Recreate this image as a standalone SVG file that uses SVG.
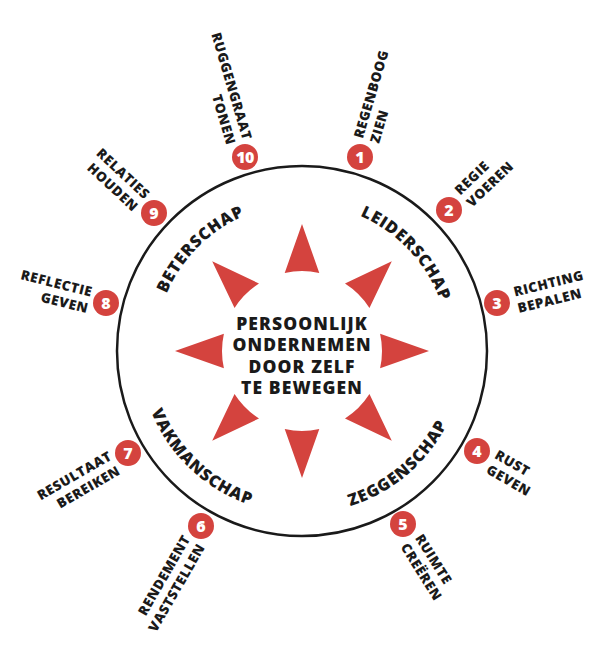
<svg xmlns="http://www.w3.org/2000/svg" width="612" height="664" viewBox="0 0 612 664">
<style>
.lbl{font-family:"Open Sans","Liberation Sans",sans-serif;font-weight:800;font-size:13.5px;letter-spacing:0.6px;fill:#1a1a1a}
.num{font-family:"Open Sans","Liberation Sans",sans-serif;font-weight:800;font-size:16px;fill:#fff;text-anchor:middle}
.dot{fill:#d4433e}
.arc{font-family:"Open Sans","Liberation Sans",sans-serif;font-weight:800;font-size:16.5px;letter-spacing:0.8px;fill:#1a1a1a}
.ctr{font-family:"Open Sans","Liberation Sans",sans-serif;font-weight:800;font-size:17.5px;letter-spacing:1.1px;fill:#1a1a1a;text-anchor:middle}
.tri{fill:#d4433e}
.e{text-anchor:end}
</style>
<defs>
<path id="upper" d="M 155 351 A 147 147 0 0 1 449 351"/>
<path id="lower" d="M 139.5 351 A 162.5 162.5 0 0 0 464.5 351"/>
<path id="tri" d="M 0 -127 L 17.3 -78.1 A 80 80 0 0 0 -17.3 -78.1 Z"/>
</defs>
<g id="ring"><circle cx="302" cy="351" r="185" fill="none" stroke="#1a1a1a" stroke-width="2.5"/></g>
<g id="rays" transform="translate(302 351)">
<use href="#tri" class="tri"/>
<use href="#tri" class="tri" transform="rotate(45)"/>
<use href="#tri" class="tri" transform="rotate(90)"/>
<use href="#tri" class="tri" transform="rotate(135)"/>
<use href="#tri" class="tri" transform="rotate(180)"/>
<use href="#tri" class="tri" transform="rotate(225)"/>
<use href="#tri" class="tri" transform="rotate(270)"/>
<use href="#tri" class="tri" transform="rotate(315)"/>
</g>
<g id="center">
<text class="ctr" x="302" y="329.5">PERSOONLIJK</text>
<text class="ctr" x="302" y="351">ONDERNEMEN</text>
<text class="ctr" x="302" y="372.6">DOOR ZELF</text>
<text class="ctr" x="302" y="394.2">TE BEWEGEN</text>
</g>
<g id="leiderschap"><text class="arc"><textPath href="#upper" startOffset="76%" text-anchor="middle">LEIDERSCHAP</textPath></text></g>
<g id="beterschap"><text class="arc"><textPath href="#upper" startOffset="25%" text-anchor="middle">BETERSCHAP</textPath></text></g>
<g id="vakmanschap"><text class="arc"><textPath href="#lower" startOffset="25.9%" text-anchor="middle">VAKMANSCHAP</textPath></text></g>
<g id="zeggenschap"><text class="arc"><textPath href="#lower" startOffset="72.4%" text-anchor="middle">ZEGGENSCHAP</textPath></text></g>
<g id="n1" transform="translate(360 157)">
<circle class="dot" r="13"/><text class="num" y="5.7">1</text>
<g transform="rotate(-73.4)"><text class="lbl" x="18" y="-2.5">REGENBOOG</text><text class="lbl" x="18" y="14.5">ZIEN</text></g>
</g>
<g id="n2" transform="translate(449 210)">
<circle class="dot" r="13"/><text class="num" y="5.7">2</text>
<g transform="rotate(-43.8)"><text class="lbl" x="18" y="-2.5">REGIE</text><text class="lbl" x="18" y="14.5">VOEREN</text></g>
</g>
<g id="n3" transform="translate(497 303)">
<circle class="dot" r="13"/><text class="num" y="5.7">3</text>
<g transform="rotate(-13.8)"><text class="lbl" x="19" y="-2">RICHTING</text><text class="lbl" x="19" y="15">BEPALEN</text></g>
</g>
<g id="n4" transform="translate(477 451)">
<circle class="dot" r="13"/><text class="num" y="5.7">4</text>
<g transform="rotate(30)"><text class="lbl" x="18" y="-2.5">RUST</text><text class="lbl" x="18" y="14.5">GEVEN</text></g>
</g>
<g id="n5" transform="translate(403 524)">
<circle class="dot" r="13"/><text class="num" y="5.7">5</text>
<g transform="rotate(58)"><text class="lbl" x="18" y="-2.5">RUIMTE</text><text class="lbl" x="18" y="14.5">CREËREN</text></g>
</g>
<g id="n6" transform="translate(201 526)">
<circle class="dot" r="13"/><text class="num" y="5.7">6</text>
<g transform="rotate(-60)"><text class="lbl e" x="-16" y="-2.5">RENDEMENT</text><text class="lbl e" x="-16" y="14.5">VASTSTELLEN</text></g>
</g>
<g id="n7" transform="translate(128 453)">
<circle class="dot" r="13"/><text class="num" y="5.7">7</text>
<g transform="rotate(-30)"><text class="lbl e" x="-16" y="-2.5">RESULTAAT</text><text class="lbl e" x="-16" y="14.5">BEREIKEN</text></g>
</g>
<g id="n8" transform="translate(106 303)">
<circle class="dot" r="13"/><text class="num" y="5.7">8</text>
<g transform="rotate(14)"><text class="lbl e" x="-16" y="-2.5">REFLECTIE</text><text class="lbl e" x="-16" y="14.5">GEVEN</text></g>
</g>
<g id="n9" transform="translate(154 213)">
<circle class="dot" r="13"/><text class="num" y="5.7">9</text>
<g transform="rotate(43)"><text class="lbl e" x="-16" y="-3">RELATIES</text><text class="lbl e" x="-16" y="14">HOUDEN</text></g>
</g>
<g id="n10" transform="translate(245 157)">
<circle class="dot" r="13"/><text class="num" y="5.7" style="letter-spacing:-0.5px">10</text>
<g transform="rotate(73.5)"><text class="lbl e" x="-16" y="-2.5">RUGGENGRAAT</text><text class="lbl e" x="-16" y="14.5">TONEN</text></g>
</g>
</svg>
